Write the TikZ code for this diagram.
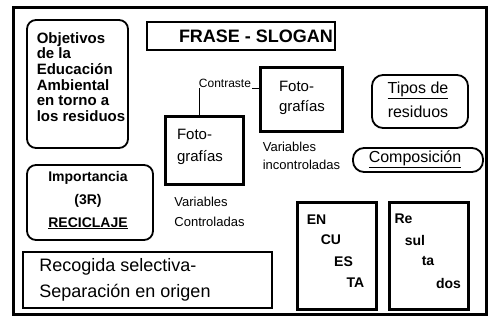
\documentclass[tikz,border=0pt]{standalone}
\usepackage{fontspec}
\setmainfont{Liberation Sans}
\begin{document}
\begin{tikzpicture}[x=1pt,y=-1pt,
  roundbox/.style={draw,line width=1.8pt,rounded corners=9pt,inner sep=0pt},
  plainbox/.style={draw,line width=1.8pt,inner sep=0pt},
  heavybox/.style={draw,line width=3pt,inner sep=0pt},
  txt/.style={inner sep=1pt,align=left},
  fs/.style n args={2}{font={\fontsize{#1}{#2}\selectfont}},
  fsb/.style n args={2}{font={\fontsize{#1}{#2}\selectfont\bfseries}},
  conn/.style={line width=1.2pt}]
\useasboundingbox (0,0) rectangle (488,320);
% outer frame
\draw[line width=3pt] (13,8) rectangle (486,315);
% boxes
\node[roundbox,minimum width=101pt,minimum height=128pt] (obj) at (77.5,84) {};
\node[txt,fsb={15}{15.6}] (objt) at (81,77) {Objetivos\\de la\\Educación\\Ambiental\\en torno a\\los residuos};
\node[draw,line width=2.2pt,minimum width=188pt,minimum height=28pt,inner sep=0pt] (frase) at (241,36) {};
\node[txt,fsb={18}{20}] (fraset) at (256,36) {FRASE - SLOGAN};
\node[txt,fs={12}{13},inner sep=1pt] (contr) at (225,83) {Contraste};
\node[heavybox,minimum width=82pt,minimum height=64pt] (fotoB) at (301,100) {};
\node[txt,fs={15}{20}] (fotoBt) at (302,98) {Foto-\\grafías};
\node[heavybox,minimum width=78pt,minimum height=68pt] (fotoA) at (204,151) {};
\node[txt,fs={15}{22}] (fotoAt) at (200,147) {Foto-\\grafías};
\node[roundbox,rounded corners=11pt,minimum width=96pt,minimum height=53pt] (tipos) at (420,101.5) {};
\node[txt,align=center,fs={16}{24}] (tipost) at (418,100) {\underline{Tipos de}\\residuos};
\node[roundbox,rounded corners=11pt,minimum width=130pt,minimum height=24pt] (comp) at (418,160) {};
\node[txt,fs={16}{20}] (compt) at (415,159) {\underline{Composición}};
\node[txt,fs={13}{18}] (varinc) at (301.5,156) {Variables\\incontroladas};
\node[txt,fs={13}{20}] (varcon) at (209.5,212) {Variables\\Controladas};
\node[roundbox,minimum width=126pt,minimum height=75pt] (imp) at (90,202.5) {};
\node[txt,align=center,fsb={14}{23}] (impt) at (88,200) {Importancia\\(3R)\\\underline{RECICLAJE}};
\node[plainbox,minimum width=249pt,minimum height=56pt] (recog) at (147.5,280) {};
\node[txt,fs={18}{26}] (recogt) at (125,280) {Recogida selectiva-\\Separación en origen};
\node[heavybox,minimum width=79pt,minimum height=107pt] (enc) at (336.5,256.5) {};
\node[txt,fsb={14}{16}] (enc1) at (316.5,220) {EN};
\node[txt,fsb={14}{16}] (enc2) at (331,240) {CU};
\node[txt,fsb={14}{16}] (enc3) at (343.5,262) {ES};
\node[txt,fsb={14}{16}] (enc4) at (355.5,283) {TA};
\node[heavybox,minimum width=79pt,minimum height=107pt] (res) at (428.5,256.5) {};
\node[txt,fsb={14}{16}] (res1) at (403.5,219) {Re};
\node[txt,fsb={14}{16}] (res2) at (415,240) {sul};
\node[txt,fsb={14}{16}] (res3) at (428,261) {ta};
\node[txt,fsb={14}{16}] (res4) at (448.5,283) {dos};
% connectors
\draw[conn] ([xshift=2pt]contr.south west) -- ([xshift=2pt]contr.south west |- fotoA.north);
\draw[conn] (contr.south east) -- (contr.south east -| fotoB.west);
\end{tikzpicture}
\end{document}
